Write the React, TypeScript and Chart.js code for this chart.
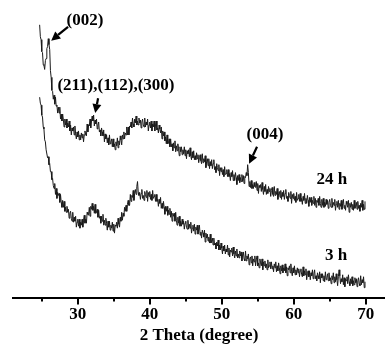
import React, { useEffect, useRef } from "react";
import { Chart, registerables } from "chart.js";

Chart.register(...registerables);

// Scan grid (2θ, degrees): first angle and step of the XRD scan
const SCAN_START = 24.7;
const SCAN_STEP = 0.1;

// Intensity (a.u.) of the 24 h sample, one value per scan step (rows of 2°)
const intensity24h = [
  275, 263, 260, 248, 247, 235, 234, 230, 239, 241, 251, 253, 261, 255, 250, 229, 222, 209, 208, 200,
  204, 195, 202, 193, 194, 186, 192, 186, 192, 180, 185, 178, 185, 179, 172, 180, 174, 180, 171, 176,
  172, 178, 168, 174, 164, 171, 168, 172, 164, 173, 165, 160, 167, 162, 168, 159, 164, 159, 166, 161,
  165, 157, 164, 168, 164, 163, 175, 167, 174, 173, 180, 171, 178, 183, 178, 184, 173, 179, 175, 180,
  170, 174, 177, 167, 169, 163, 171, 167, 163, 169, 157, 165, 160, 164, 156, 161, 154, 164, 155, 157,
  160, 152, 160, 152, 155, 149, 157, 153, 161, 151, 158, 154, 163, 159, 154, 164, 160, 167, 160, 166,
  164, 172, 164, 172, 164, 173, 172, 177, 171, 181, 175, 172, 180, 176, 183, 174, 178, 174, 181, 176,
  179, 171, 177, 180, 174, 172, 181, 172, 177, 174, 180, 168, 174, 177, 171, 178, 168, 175, 172, 178,
  168, 174, 178, 169, 171, 166, 174, 170, 166, 172, 160, 168, 163, 167, 158, 162, 155, 164, 155, 156,
  160, 152, 160, 152, 155, 148, 156, 151, 158, 147, 153, 148, 155, 150, 143, 152, 147, 152, 144, 149,
  145, 152, 143, 149, 140, 148, 145, 149, 142, 151, 143, 139, 147, 141, 148, 139, 143, 139, 146, 140,
  144, 136, 141, 144, 138, 135, 145, 136, 140, 137, 143, 131, 137, 140, 133, 140, 130, 137, 133, 139,
  130, 135, 139, 129, 132, 126, 135, 131, 128, 134, 123, 131, 127, 131, 124, 129, 122, 132, 124, 125,
  129, 122, 129, 122, 125, 118, 126, 122, 128, 118, 124, 118, 126, 121, 114, 123, 118, 124, 116, 121,
  117, 124, 117, 123, 115, 122, 121, 126, 123, 134, 126, 112, 117, 111, 118, 110, 114, 110, 116, 112,
  111, 117, 108, 115, 105, 113, 111, 114, 107, 116, 109, 104, 112, 107, 114, 104, 109, 105, 112, 107,
  110, 102, 108, 111, 104, 102, 112, 103, 107, 104, 110, 99, 105, 107, 101, 108, 99, 106, 102, 108,
  99, 105, 109, 100, 102, 97, 106, 103, 100, 107, 95, 104, 100, 105, 98, 102, 96, 106, 98, 100,
  104, 97, 105, 97, 100, 94, 102, 98, 105, 95, 100, 95, 103, 98, 92, 101, 96, 101, 93, 98,
  95, 102, 93, 100, 91, 98, 96, 100, 93, 102, 95, 91, 99, 93, 100, 91, 96, 92, 99, 94,
  98, 90, 96, 99, 93, 91, 100, 91, 96, 93, 99, 88, 94, 97, 91, 98, 89, 95, 92, 98,
  89, 95, 99, 90, 93, 88, 97, 94, 91, 98, 86, 95, 91, 96, 89, 94, 88, 98, 90, 92,
  96, 89, 97, 90, 93, 87, 95, 91, 98, 88, 94, 89, 97,
];

// Intensity (a.u.) of the 3 h sample, one value per scan step (rows of 2°)
const intensity3h = [
  202, 196, 194, 184, 182, 172, 170, 159, 157, 149, 149, 141, 142, 134, 135, 127, 127, 119, 120, 113,
  110, 115, 104, 110, 100, 106, 103, 105, 96, 104, 96, 91, 98, 91, 97, 87, 91, 86, 92, 86,
  89, 80, 85, 87, 80, 77, 86, 76, 81, 77, 82, 71, 76, 79, 72, 79, 70, 76, 73, 79,
  71, 78, 83, 75, 79, 75, 86, 84, 83, 91, 82, 92, 89, 95, 88, 92, 85, 94, 85, 86,
  89, 81, 88, 80, 82, 75, 82, 77, 84, 73, 78, 73, 80, 75, 68, 77, 71, 77, 68, 73,
  70, 76, 67, 74, 65, 73, 72, 76, 70, 80, 74, 71, 81, 77, 86, 78, 85, 82, 91, 87,
  93, 87, 94, 98, 93, 93, 104, 97, 103, 101, 108, 98, 105, 109, 104, 112, 117, 106, 103, 106,
  99, 105, 109, 100, 103, 98, 107, 104, 101, 108, 97, 106, 102, 107, 99, 104, 98, 108, 100, 102,
  104, 97, 104, 97, 99, 92, 99, 95, 101, 90, 95, 90, 97, 91, 84, 92, 87, 92, 83, 88,
  84, 90, 81, 87, 77, 85, 82, 85, 77, 86, 78, 73, 81, 75, 82, 72, 77, 72, 79, 74,
  77, 69, 75, 77, 71, 69, 78, 69, 74, 70, 76, 65, 70, 73, 67, 74, 64, 71, 68, 73,
  64, 69, 73, 63, 66, 60, 68, 65, 61, 68, 56, 65, 60, 64, 57, 61, 55, 64, 55, 57,
  60, 53, 60, 53, 55, 49, 56, 52, 58, 48, 53, 48, 55, 50, 44, 52, 47, 53, 44, 49,
  46, 53, 43, 50, 41, 48, 46, 50, 42, 51, 44, 40, 47, 42, 49, 40, 44, 40, 47, 42,
  46, 37, 43, 46, 39, 37, 47, 37, 42, 39, 44, 33, 39, 41, 35, 42, 32, 39, 36, 42,
  32, 38, 42, 32, 35, 30, 39, 35, 32, 39, 28, 36, 32, 37, 30, 34, 28, 38, 30, 32,
  36, 29, 36, 29, 32, 26, 34, 30, 36, 26, 32, 27, 35, 30, 24, 32, 27, 33, 25, 30,
  27, 34, 25, 31, 22, 30, 28, 32, 25, 34, 26, 22, 30, 25, 32, 23, 28, 23, 30, 25,
  29, 21, 27, 29, 23, 21, 31, 22, 27, 23, 29, 18, 24, 27, 21, 27, 18, 25, 22, 28,
  19, 24, 28, 19, 22, 17, 25, 22, 19, 26, 15, 24, 20, 24, 17, 22, 16, 26, 18, 20,
  24, 17, 25, 17, 20, 14, 22, 18, 25, 15, 21, 16, 24, 18, 12, 21, 28, 22, 14, 19,
  16, 23, 13, 20, 11, 19, 17, 21, 14, 23, 16, 12, 19, 14, 21, 12, 17, 13, 20, 15,
  19, 11, 17, 20, 14, 12, 22, 13, 18, 15, 21, 10, 16,
];

// X axis ticks (2θ); labelled ones are the multiples of 10
const tickValues = [25, 30, 35, 40, 45, 50, 55, 60, 65, 70];
const labelledTicks = [30, 40, 50, 60, 70];

// Text labels placed in data coordinates (2θ, intensity)
const labelTexts = ["(002)", "(211),(112),(300)", "(004)", "24 h", "3 h"];
const labelX = [31.0, 35.3, 56.0, 65.3, 65.9];
const labelY = [279, 214, 164, 119, 42];

// Arrows in data coordinates: from (x0,y0) to tip (x1,y1)
const arrowX0 = [28.65, 32.82, 54.9];
const arrowY0 = [273, 201, 152];
const arrowX1 = [26.3, 32.42, 53.8];
const arrowY1 = [259, 186, 135];

const FONT = "'Liberation Serif', 'Times New Roman', serif";

const overlayPlugin = {
  id: "overlay",
  afterDraw(chart: any) {
    const ctx = chart.ctx;
    const xs = chart.scales.x;
    const ys = chart.scales.y;
    const axisY = chart.chartArea.bottom;
    ctx.save();
    // ticks
    ctx.strokeStyle = "#000";
    ctx.lineWidth = 2;
    tickValues.forEach((v) => {
      const px = Math.round(xs.getPixelForValue(v));
      const major = labelledTicks.includes(v);
      ctx.beginPath();
      ctx.moveTo(px, axisY);
      ctx.lineTo(px, axisY + (major ? 7 : 4));
      ctx.stroke();
    });
    // labels
    ctx.fillStyle = "#000";
    ctx.font = `bold 17px ${FONT}`;
    ctx.textAlign = "center";
    ctx.textBaseline = "middle";
    labelTexts.forEach((t, i) => {
      ctx.fillText(t, xs.getPixelForValue(labelX[i]), ys.getPixelForValue(labelY[i]));
    });
    // arrows
    arrowX0.forEach((_, i) => {
      const x0 = xs.getPixelForValue(arrowX0[i]);
      const y0 = ys.getPixelForValue(arrowY0[i]);
      const x1 = xs.getPixelForValue(arrowX1[i]);
      const y1 = ys.getPixelForValue(arrowY1[i]);
      const ang = Math.atan2(y1 - y0, x1 - x0);
      const head = 9;
      const hw = 4.5;
      const bx = x1 - head * Math.cos(ang);
      const by = y1 - head * Math.sin(ang);
      ctx.lineWidth = 2.2;
      ctx.beginPath();
      ctx.moveTo(x0, y0);
      ctx.lineTo(bx, by);
      ctx.stroke();
      ctx.beginPath();
      ctx.moveTo(x1, y1);
      ctx.lineTo(bx + hw * Math.sin(ang), by - hw * Math.cos(ang));
      ctx.lineTo(bx - hw * Math.sin(ang), by + hw * Math.cos(ang));
      ctx.closePath();
      ctx.fill();
    });
    ctx.restore();
  },
};

export default function App() {
  const ref = useRef<HTMLCanvasElement | null>(null);
  useEffect(() => {
    document.body.style.margin = "0";
    const twoTheta = intensity24h.map((_, i) => +(SCAN_START + SCAN_STEP * i).toFixed(2));
    const chart = new Chart(ref.current as HTMLCanvasElement, {
      type: "line",
      data: {
        datasets: [
          {
            label: "24 h",
            data: intensity24h.map((v, i) => ({ x: twoTheta[i], y: v })),
            borderColor: "#1a1a1a",
            borderWidth: 1,
            pointRadius: 0,
            tension: 0,
          },
          {
            label: "3 h",
            data: intensity3h.map((v, i) => ({ x: twoTheta[i], y: v })),
            borderColor: "#1a1a1a",
            borderWidth: 1,
            pointRadius: 0,
            tension: 0,
          },
        ],
      },
      options: {
        animation: false,
        responsive: false,
        layout: { padding: { left: 13, right: 0, top: 0, bottom: 0 } },
        plugins: { legend: { display: false }, tooltip: { enabled: false } },
        scales: {
          x: {
            type: "linear",
            min: 21,
            max: 72.68,
            afterBuildTicks: (scale: any) => {
              scale.ticks = tickValues.map((v) => ({ value: v }));
            },
            grid: {
              drawOnChartArea: false,
              drawTicks: true,
              tickLength: 5,
              tickColor: "rgba(0,0,0,0)",
            },
            border: { display: true, color: "#000", width: 2 },
            ticks: {
              autoSkip: false,
              maxRotation: 0,
              padding: 2,
              color: "#000",
              font: { family: FONT, weight: "bold", size: 17 },
              callback: (v: any) => (labelledTicks.includes(Number(v)) ? String(v) : ""),
            },
            title: {
              display: true,
              text: "2 Theta (degree)",
              color: "#000",
              padding: { top: 0, bottom: 0 },
              font: { family: FONT, weight: "bold", size: 17, lineHeight: 1 },
            },
          },
          y: { display: false, min: 0, max: 300 },
        },
      },
      plugins: [overlayPlugin],
    } as any);
    return () => chart.destroy();
  }, []);
  return <canvas ref={ref} width={385} height={344} style={{ display: "block" }} />;
}
